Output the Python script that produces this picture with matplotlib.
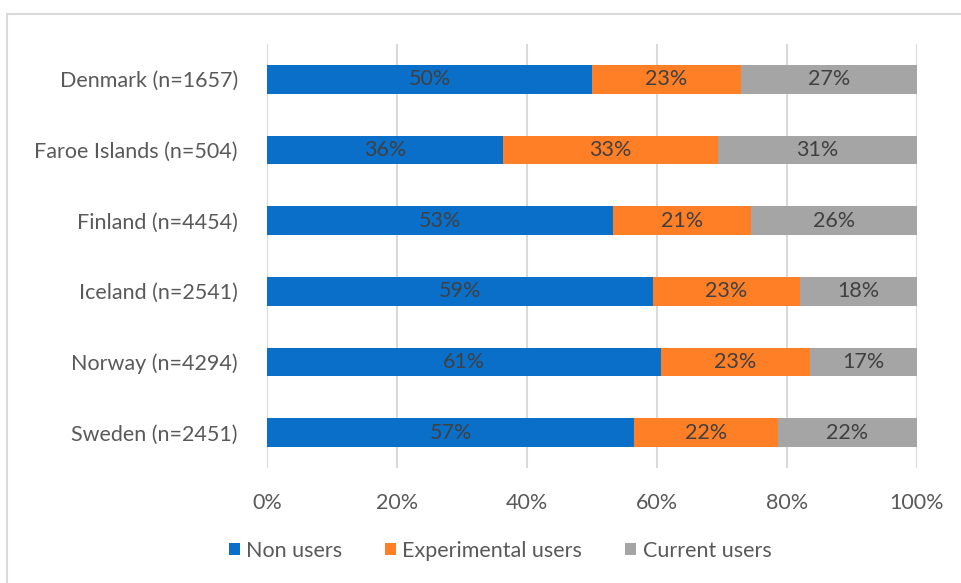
import matplotlib
matplotlib.use("Agg")
import matplotlib.pyplot as plt
from matplotlib.patches import Rectangle

countries = ["Denmark (n=1657)", "Faroe Islands (n=504)", "Finland (n=4454)",
             "Iceland (n=2541)", "Norway (n=4294)", "Sweden (n=2451)"]
non_users = [50.0, 36.3, 53.2, 59.4, 60.6, 56.5]
experimental_users = [22.9, 33.1, 21.3, 22.6, 22.9, 22.1]
current_users = [27.1, 30.6, 25.5, 18.0, 16.5, 21.4]
non_labels = ["50%", "36%", "53%", "59%", "61%", "57%"]
exp_labels = ["23%", "33%", "21%", "23%", "23%", "22%"]
cur_labels = ["27%", "31%", "26%", "18%", "17%", "22%"]
series_names = ["Non users", "Experimental users", "Current users"]
ticks = [0, 20, 40, 60, 80, 100]
tick_labels = ["0%", "20%", "40%", "60%", "80%", "100%"]

colors = ["#0A6FC8", "#FF7F27", "#A5A5A5"]
text_col = "#404040"
tick_col = "#595959"
plt.rcParams['font.family'] = ['Lato', 'DejaVu Sans']

W, H = 962, 583
fig = plt.figure(figsize=(W / 100, H / 100), dpi=100)
fig.patches.append(Rectangle((7 / W, -0.1), 1.2, 1 - 14 / H + 0.1, transform=fig.transFigure,
                             fill=False, edgecolor="#D9D9D9", linewidth=1.5, zorder=0))

ax = fig.add_axes([267 / W, 1 - 468 / H, 650 / W, (468 - 44) / H])
y = list(range(len(countries)))
left = [0] * len(countries)
for vals, labs, col, name in zip([non_users, experimental_users, current_users],
                                 [non_labels, exp_labels, cur_labels], colors, series_names):
    bars = ax.barh(y, vals, left=left, height=0.41, color=col, label=name, zorder=3)
    for b, lab in zip(bars, labs):
        ax.text(b.get_x() + b.get_width() / 2, b.get_y() + b.get_height() / 2, lab,
                ha="center", va="center", fontsize=15.5, color=text_col, zorder=4)
    left = [l + v for l, v in zip(left, vals)]

ax.set_xlim(0, 100)
ax.set_ylim(len(countries) - 0.5, -0.5)
ax.set_xticks(ticks)
ax.set_xticklabels(tick_labels)
ax.set_yticks(y)
ax.set_yticklabels(countries)
ax.tick_params(axis="both", length=0, labelsize=15.5, colors=tick_col)
ax.tick_params(axis="x", pad=18)
ax.tick_params(axis="y", pad=21)
ax.grid(axis="x", color="#D9D9D9", linewidth=1.5, zorder=0)
for s in ax.spines.values():
    s.set_visible(False)

handles, labels = ax.get_legend_handles_labels()
fig.legend(handles, labels, loc="center", bbox_to_anchor=(500 / W, 1 - 551 / H), ncol=3,
           frameon=False, fontsize=15.5, labelcolor=tick_col, handlelength=0.5, handleheight=0.5,
           handletextpad=0.3, columnspacing=2.0)

fig.savefig("out.png", dpi=100)
